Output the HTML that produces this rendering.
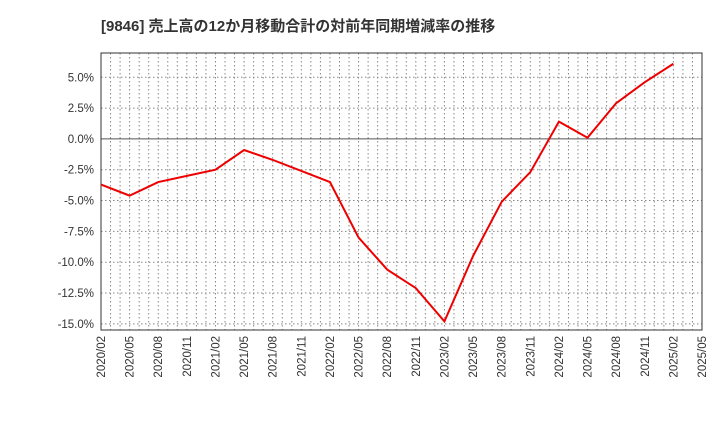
<!DOCTYPE html>
<html><head><meta charset="utf-8"><style>
body{margin:0;background:#fff;}
svg text{font-family:"Liberation Sans","Noto Sans CJK JP",sans-serif;}
</style></head><body>
<svg id="chart" width="720" height="440" xmlns="http://www.w3.org/2000/svg">
<text x="101" y="31" font-size="15" font-weight="bold" fill="#333">[9846]  売上高の12か月移動合計の対前年同期増減率の推移</text>
<g id="grid"></g><g id="axes"></g><g id="series"></g>
</svg>
<script>
const xLabels=["2020/02","2020/05","2020/08","2020/11","2021/02","2021/05","2021/08","2021/11","2022/02","2022/05","2022/08","2022/11","2023/02","2023/05","2023/08","2023/11","2024/02","2024/05","2024/08","2024/11","2025/02","2025/05"];
const values=[-3.7,-4.6,-3.5,-3.0,-2.5,-0.9,-1.7,-2.6,-3.5,-8.0,-10.6,-12.1,-14.8,-9.5,-5.1,-2.7,1.4,0.1,2.9,4.6,6.1];
const yTicks=[5,2.5,0,-2.5,-5,-7.5,-10,-12.5,-15];
const yTickLabels=["5.0%","2.5%","0.0%","-2.5%","-5.0%","-7.5%","-10.0%","-12.5%","-15.0%"];
const L=101,R=702,T=53,B=330,yMax=6.97,yMin=-15.5;
const NS="http://www.w3.org/2000/svg";
const x=i=>L+(R-L)*i/(xLabels.length-1);
const y=v=>T+(B-T)*(yMax-v)/(yMax-yMin);
function mk(p,t,a){const e=document.createElementNS(NS,t);for(const k in a)e.setAttribute(k,a[k]);document.getElementById(p).appendChild(e);return e;}
const months=(xLabels.length-1)*3;
for(let m=1;m<months;m++){const xx=L+(R-L)*m/months;
const g=mk("grid","line",{x1:xx,x2:xx,y1:T,y2:B,stroke:"#888","stroke-dasharray":"1.5,2.5"});

}
yTicks.forEach((v,i)=>{const yy=y(v);
const g=mk("grid","line",{x1:L,x2:R,y1:yy,y2:yy,stroke:v===0?"#555":"#888","stroke-dasharray":v===0?"":"1.5,2.5"});


const t=mk("axes","text",{x:L-7,y:yy+4,"font-size":"11.5","text-anchor":"end",fill:"#333"});t.textContent=yTickLabels[i];

});
xLabels.forEach((s,i)=>{const xx=x(i);
const t=mk("axes","text",{x:0,y:0,"font-size":"11.5","text-anchor":"end",fill:"#333",transform:`translate(${xx+4},${B+6}) rotate(-90)`});t.textContent=s;

});
const fr=mk("axes","rect",{x:L,y:T,width:R-L,height:B-T,fill:"none",stroke:"#333","stroke-width":"1"});


const pl=mk("series","polyline",{points:values.map((v,i)=>x(i)+","+y(v)).join(" "),fill:"none",stroke:"#ee0000","stroke-width":"2"});


</script>
</body></html>
